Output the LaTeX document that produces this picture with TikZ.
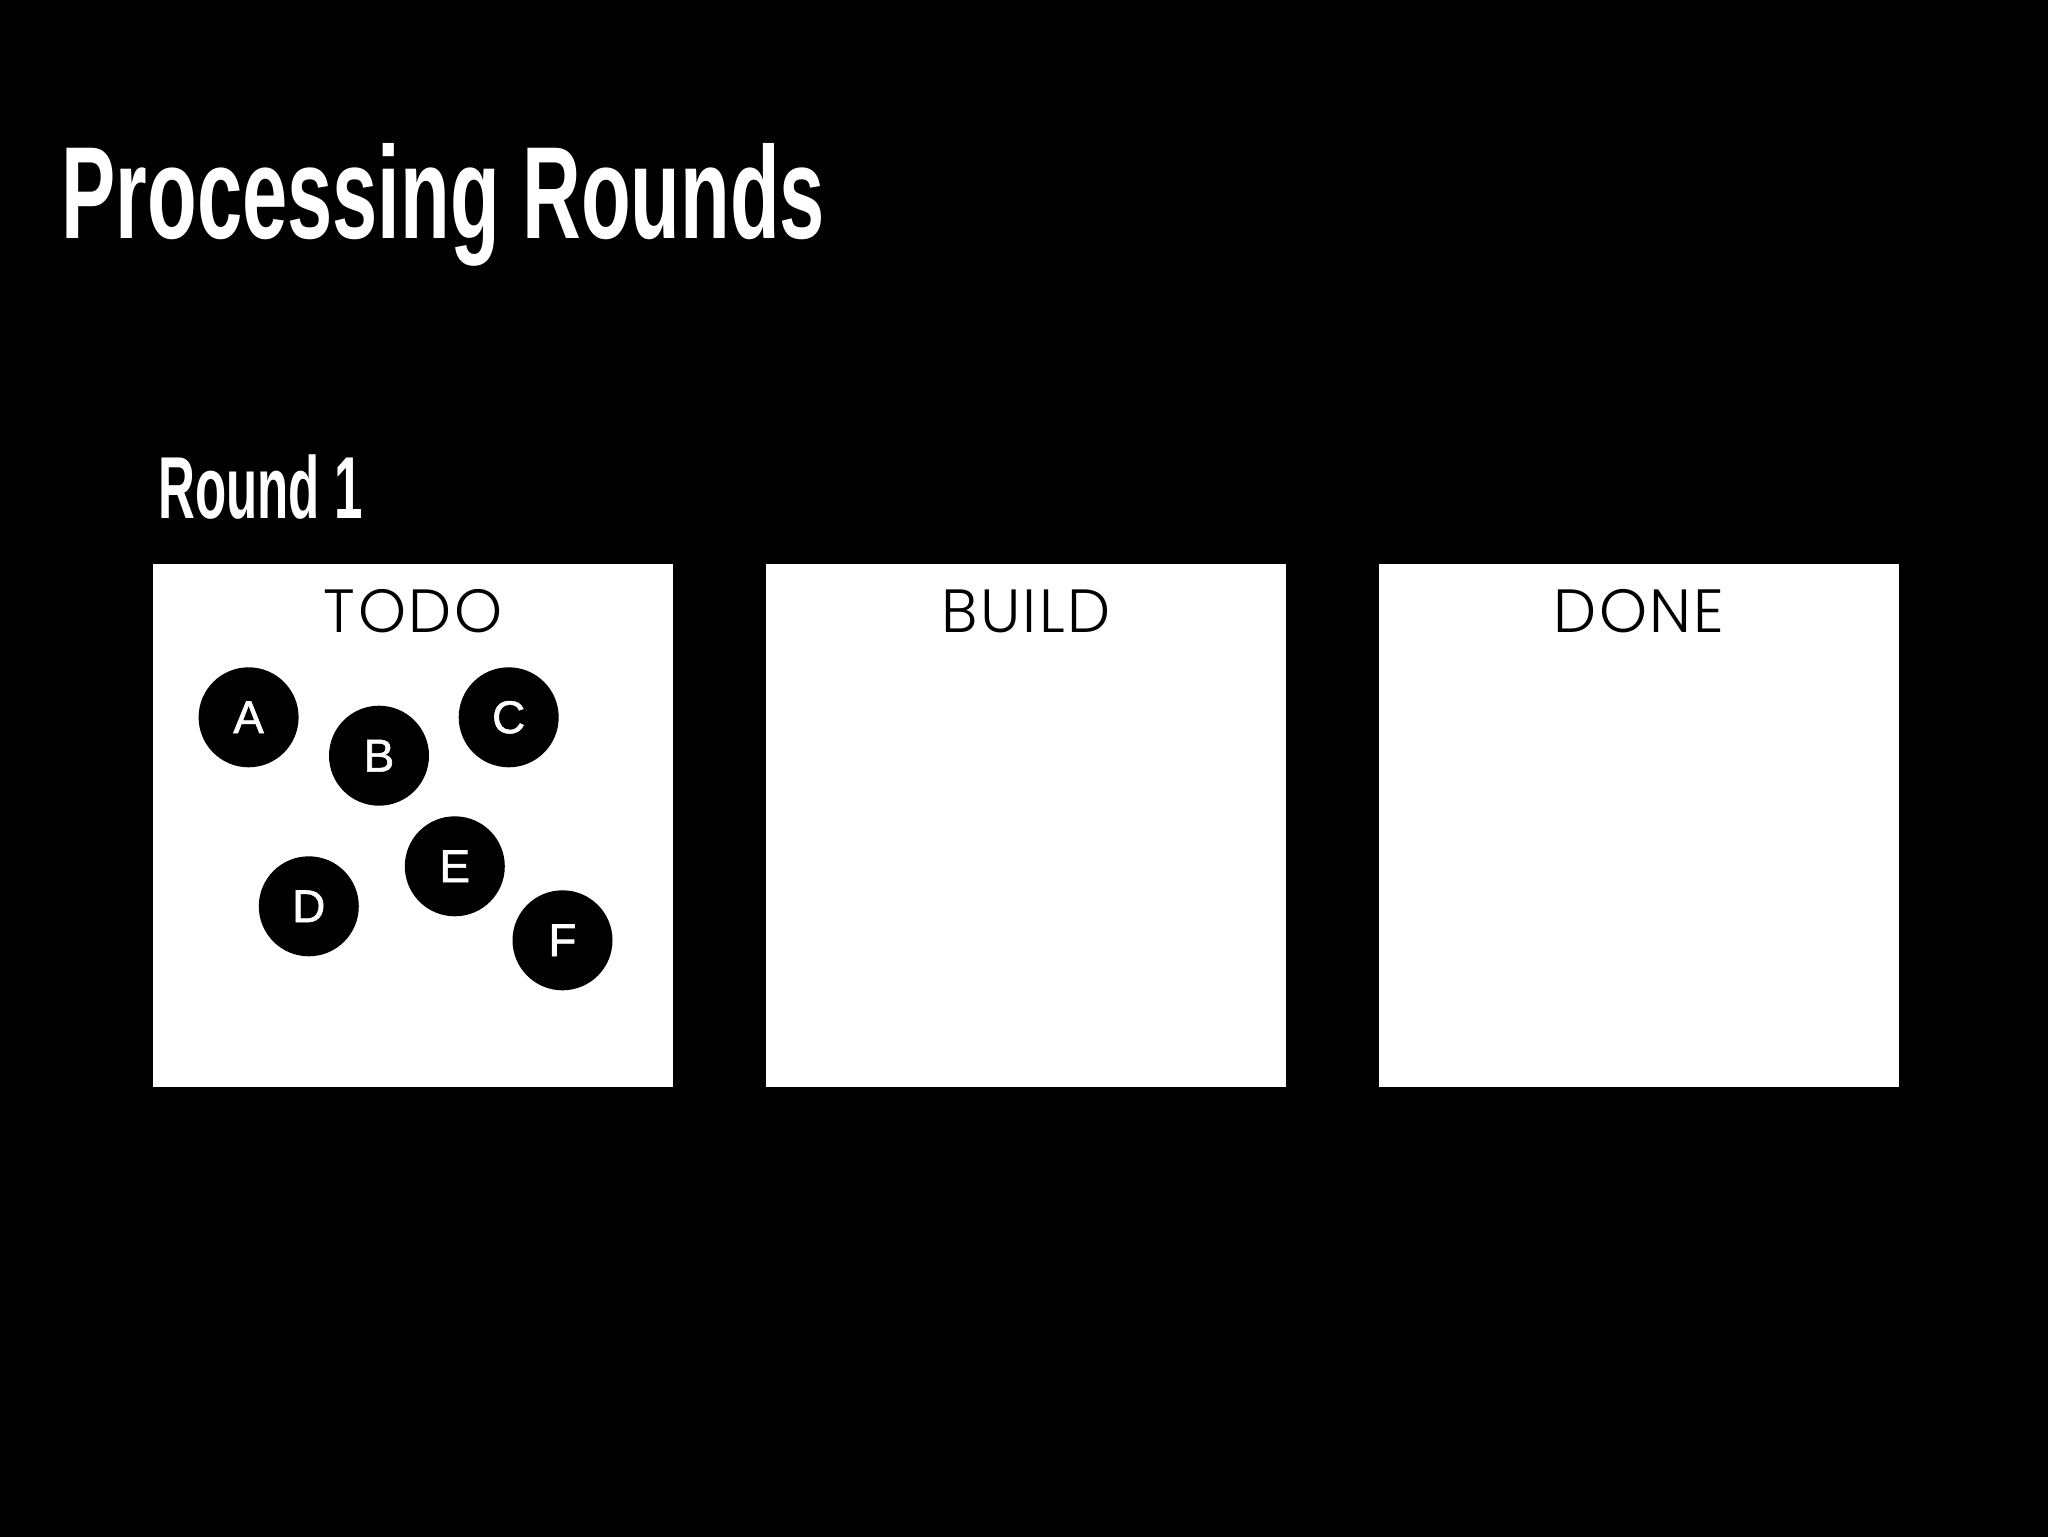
\documentclass[tikz,border=0pt]{standalone}
\usepackage{fontspec}
\setmainfont{Liberation Sans}
\newfontfamily\titlefont[FakeStretch=0.62]{Liberation Sans Bold}
\newfontfamily\roundfont[FakeStretch=0.58]{Liberation Sans Bold}
\newfontfamily\labelfont[LetterSpace=4]{Poppins Light}
\newfontfamily\ballfont[FakeBold=1.2]{Liberation Sans}
\begin{document}
\begin{tikzpicture}[x=0.5pt,y=-0.5pt,
  panel/.style={fill=white, draw=none, inner sep=0pt, minimum width=260pt, minimum height=261.5pt},
  lbl/.style={anchor=base, inner sep=0pt, text=black, font=\labelfont\fontsize{30.5pt}{36pt}\selectfont},
  ball/.style={circle, fill=black, draw=none, minimum size=50pt, inner sep=0pt, text=white, font=\ballfont\fontsize{23pt}{26pt}\selectfont},
  heading/.style={anchor=base west, inner sep=0pt, text=white}]
\useasboundingbox (0,0) rectangle (2048,1536);
\fill[black] (-20,-20) rectangle (2068,1556);
\node[heading, font=\titlefont\fontsize{65.6pt}{70pt}\selectfont] (title) at (61,238) {Processing Rounds};
\node[heading, font=\roundfont\fontsize{44pt}{48pt}\selectfont] (round) at (158,518) {Round 1};
\node[panel] (todo) at (413,825.5) {};
\node[panel] (build) at (1026,825.5) {};
\node[panel] (done) at (1639,825.5) {};
\node[lbl] (todolbl) at (413,632) {TODO};
\node[lbl] (buildlbl) at (1026,632) {BUILD};
\node[lbl] (donelbl) at (1639,632) {DONE};
\node[ball] (A) at (248.6,717.3) {A};
\node[ball] (B) at (379,755.7) {B};
\node[ball] (C) at (508.7,717.3) {C};
\node[ball] (D) at (308.8,906.3) {D};
\node[ball] (E) at (454.8,866.3) {E};
\node[ball] (F) at (562.5,940.3) {F};
\end{tikzpicture}
\end{document}
